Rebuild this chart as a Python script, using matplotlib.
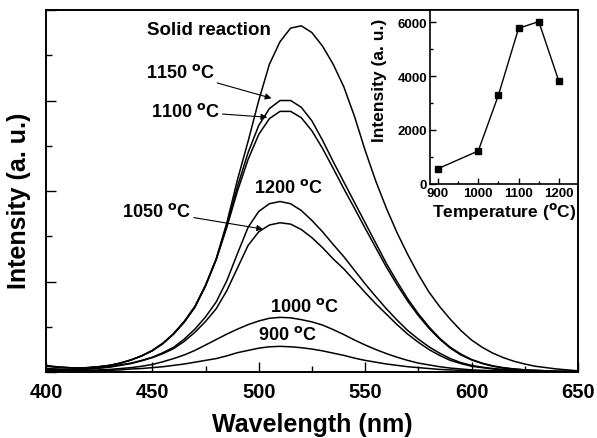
import numpy as np
import matplotlib
matplotlib.use('Agg')
import matplotlib.pyplot as plt
from matplotlib.ticker import MultipleLocator, NullFormatter

plt.rcParams['font.family'] = ['Liberation Sans', 'DejaVu Sans']
plt.rcParams['font.weight'] = 'bold'
plt.rcParams['mathtext.default'] = 'bf'

# Emission spectra (intensity in a. u., thousands)
wavelength = list(range(400, 651, 5))

solid = [0.15, 0.12, 0.10, 0.09, 0.10, 0.12, 0.15, 0.20, 0.27, 0.36,
         0.48, 0.64, 0.85, 1.12, 1.45, 1.92, 2.50, 3.30, 4.25, 5.10,
         6.00, 6.80, 7.30, 7.60, 7.65, 7.50, 7.20, 6.80, 6.30, 5.65,
         4.90, 4.22, 3.62, 3.08, 2.60, 2.16, 1.77, 1.45, 1.17, 0.92,
         0.71, 0.55, 0.42, 0.32, 0.24, 0.18, 0.13, 0.10, 0.07, 0.05, 0.03]
t1150 = [0.14, 0.11, 0.10, 0.09, 0.10, 0.12, 0.15, 0.20, 0.27, 0.36,
         0.48, 0.64, 0.85, 1.12, 1.45, 1.92, 2.50, 3.25, 4.10, 4.85,
         5.45, 5.82, 6.00, 6.00, 5.85, 5.55, 5.12, 4.65, 4.20, 3.75,
         3.30, 2.85, 2.40, 2.00, 1.62, 1.29, 1.00, 0.75, 0.55, 0.40,
         0.28, 0.20, 0.14, 0.10, 0.07, 0.05, 0.04, 0.03, 0.02, 0.02, 0.02]
t1100 = [0.13, 0.11, 0.10, 0.09, 0.10, 0.12, 0.15, 0.20, 0.27, 0.36,
         0.47, 0.63, 0.84, 1.10, 1.43, 1.90, 2.48, 3.20, 4.00, 4.70,
         5.25, 5.60, 5.76, 5.76, 5.62, 5.33, 4.94, 4.50, 4.05, 3.62,
         3.18, 2.75, 2.32, 1.93, 1.57, 1.25, 0.97, 0.73, 0.53, 0.38,
         0.27, 0.19, 0.13, 0.09, 0.07, 0.05, 0.04, 0.03, 0.02, 0.02, 0.02]
t1200 = [0.08, 0.07, 0.06, 0.06, 0.07, 0.09, 0.12, 0.16, 0.20, 0.26,
         0.33, 0.43, 0.55, 0.73, 0.95, 1.22, 1.55, 2.02, 2.62, 3.20,
         3.55, 3.72, 3.77, 3.72, 3.57, 3.35, 3.10, 2.82, 2.55, 2.25,
         1.95, 1.67, 1.40, 1.15, 0.92, 0.73, 0.56, 0.42, 0.30, 0.21,
         0.15, 0.11, 0.08, 0.06, 0.04, 0.03, 0.02, 0.02, 0.01, 0.01, 0.01]
t1050 = [0.07, 0.06, 0.06, 0.06, 0.07, 0.09, 0.11, 0.15, 0.19, 0.25,
         0.32, 0.41, 0.52, 0.68, 0.88, 1.12, 1.40, 1.80, 2.30, 2.80,
         3.10, 3.25, 3.30, 3.27, 3.15, 2.97, 2.75, 2.50, 2.28, 2.02,
         1.76, 1.51, 1.28, 1.05, 0.84, 0.66, 0.50, 0.37, 0.26, 0.19,
         0.13, 0.10, 0.07, 0.05, 0.04, 0.03, 0.02, 0.02, 0.01, 0.01, 0.01]
t1000 = [0.04, 0.035, 0.03, 0.035, 0.04, 0.05, 0.06, 0.08, 0.10, 0.13,
         0.17, 0.23, 0.30, 0.38, 0.48, 0.60, 0.72, 0.84, 0.95, 1.05,
         1.13, 1.19, 1.21, 1.20, 1.16, 1.11, 1.04, 0.94, 0.83, 0.71,
         0.60, 0.50, 0.41, 0.33, 0.26, 0.20, 0.16, 0.12, 0.09, 0.07,
         0.05, 0.04, 0.03, 0.025, 0.02, 0.015, 0.01, 0.01, 0.01, 0.01, 0.01]
t900 = [0.03, 0.025, 0.02, 0.025, 0.03, 0.035, 0.04, 0.05, 0.07, 0.08,
        0.10, 0.12, 0.15, 0.18, 0.22, 0.26, 0.30, 0.36, 0.43, 0.48,
        0.53, 0.56, 0.57, 0.56, 0.54, 0.51, 0.47, 0.42, 0.37, 0.31,
        0.26, 0.22, 0.18, 0.15, 0.12, 0.10, 0.08, 0.06, 0.05, 0.04,
        0.03, 0.025, 0.02, 0.02, 0.015, 0.01, 0.01, 0.01, 0.01, 0.01, 0.01]

# Inset: peak intensity vs temperature
temperature = [900, 1000, 1050, 1100, 1150, 1200]
peak_intensity = [560, 1220, 3290, 5770, 6020, 3800]

fig = plt.figure(figsize=(5.97, 4.39), dpi=100)
ax = fig.add_axes([0.077, 0.150, 0.891, 0.825])

for curve in [solid, t1150, t1100, t1200, t1050, t1000, t900]:
    ax.plot(wavelength, np.array(curve) * 1000, color='black', lw=1.1)

ax.set_xlim(400, 650)
ax.set_ylim(0, 8000)
ax.xaxis.set_major_locator(MultipleLocator(50))
ax.xaxis.set_minor_locator(MultipleLocator(25))
ax.yaxis.set_major_locator(MultipleLocator(2000))
ax.yaxis.set_minor_locator(MultipleLocator(1000))
ax.yaxis.set_major_formatter(NullFormatter())
ax.tick_params(which='both', direction='in', width=1.0)
ax.tick_params(which='major', length=7, labelsize=14.5, pad=7)
ax.tick_params(which='minor', length=4)
for s in ax.spines.values():
    s.set_linewidth(1.4)
ax.set_xlabel('Wavelength (nm)', fontsize=18, fontweight='bold', labelpad=8)
ax.set_ylabel('Intensity (a. u.)', fontsize=18, fontweight='bold')
ax.yaxis.set_label_coords(-0.028, 0.475)

arrow = dict(arrowstyle='-|>', color='black', lw=0.8, mutation_scale=9,
             shrinkA=0, shrinkB=0)
tsize = 13
deg = r' $^{\mathbf{o}}$C'
ax.text(476.5, 7560, 'Solid reaction', fontsize=13.5, ha='center', va='center')
ax.annotate('1150' + deg, xy=(506, 6050), xytext=(463, 6620),
            fontsize=tsize, ha='center', va='center', arrowprops=arrow)
ax.annotate('1100' + deg, xy=(504, 5630), xytext=(465.5, 5760),
            fontsize=tsize, ha='center', va='center', arrowprops=arrow)
ax.text(514, 4080, '1200' + deg, fontsize=tsize, ha='center', va='center')
ax.annotate('1050' + deg, xy=(502, 3160), xytext=(452, 3550),
            fontsize=tsize, ha='center', va='center', arrowprops=arrow)
ax.text(521.5, 1460, '1000' + deg, fontsize=tsize, ha='center', va='center')
ax.text(513.5, 840, '900' + deg, fontsize=tsize, ha='center', va='center')

# inset
ins = fig.add_axes([0.720, 0.579, 0.248, 0.396])
ins.plot(temperature, peak_intensity, color='black', lw=1.0, marker='s',
         markersize=5)
ins.set_xlim(880, 1247)
ins.set_ylim(0, 6450)
ins.xaxis.set_major_locator(MultipleLocator(100))
ins.xaxis.set_minor_locator(MultipleLocator(50))
ins.yaxis.set_major_locator(MultipleLocator(2000))
ins.yaxis.set_minor_locator(MultipleLocator(1000))
ins.tick_params(which='both', direction='in', width=1.0, labelsize=9.5, pad=2)
ins.tick_params(which='major', length=4)
ins.tick_params(which='minor', length=2.5)
for s in ins.spines.values():
    s.set_linewidth(1.2)
ins.set_xlabel('Temperature (' + deg.strip() + ')', fontsize=12.5,
               fontweight='bold', labelpad=1)
ins.set_ylabel('Intensity (a. u.)', fontsize=12.5, fontweight='bold')
ins.yaxis.set_label_coords(-0.29, 0.60)

fig.savefig('out.png', dpi=100)
